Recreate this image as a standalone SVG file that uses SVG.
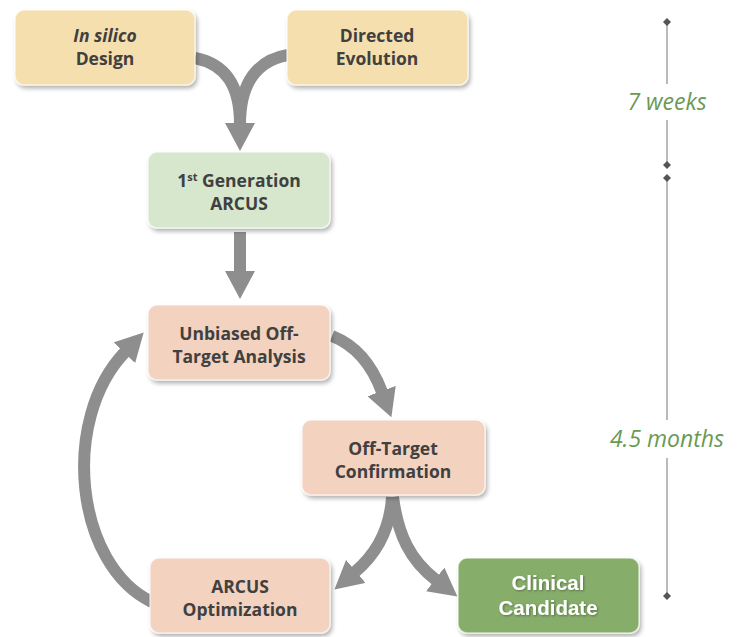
<svg xmlns="http://www.w3.org/2000/svg" width="742" height="637" viewBox="0 0 742 637">
<defs>
<filter id="sh" x="-10%" y="-10%" width="130%" height="140%">
<feDropShadow dx="2" dy="3" stdDeviation="2" flood-color="#000" flood-opacity="0.3"/>
</filter>
<filter id="tsh" x="-10%" y="-20%" width="130%" height="150%">
<feDropShadow dx="1" dy="1" stdDeviation="0.8" flood-color="#000" flood-opacity="0.35"/>
</filter>
<marker id="ah" viewBox="0 0 28 30" refX="1" refY="15" markerWidth="28" markerHeight="30" markerUnits="userSpaceOnUse" orient="auto">
<path d="M0,0 L28,15 L0,30 z" fill="#8e8e8e"/>
</marker>
<marker id="dm" viewBox="0 0 8 8" refX="4" refY="4" markerWidth="8" markerHeight="8" markerUnits="userSpaceOnUse">
<path d="M4,0 L8,4 L4,8 L0,4 z" fill="#555"/>
</marker>
</defs>
<style>
.box{stroke:#ffffff;stroke-opacity:0.6;stroke-width:1.5;filter:url(#sh)}
.tan{fill:#f5dfae}
.lg{fill:#d6e7cd}
.pc{fill:#f3d2bf}
.dg{fill:#86ad6a}
.t{font-family:"Open Sans","DejaVu Sans",sans-serif;font-weight:700;font-size:17.5px;fill:#404040;text-anchor:middle}
.tw{fill:#ffffff;font-size:20.5px;font-family:"Liberation Sans",Arial,sans-serif;filter:url(#tsh)}
.c{fill:none;stroke:#8e8e8e;stroke-width:12}
.tl{stroke:#a3a3a3;stroke-width:1.5;fill:none}
.lab{font-family:"Open Sans","DejaVu Sans",sans-serif;font-style:italic;font-size:23px;fill:#6a9a52;text-anchor:middle}
</style>
<g id="connectors">
<path class="c" d="M195,58 C225,64 240,85 240,124"/>
<path class="c" d="M288,55 C258,60 240,82 240,124" marker-end="url(#ah)"/>
<path class="c" d="M240,232 L240,272" marker-end="url(#ah)"/>
<path class="c" d="M332,336 C355,345 372,365 382,392" marker-end="url(#ah)"/>
<path class="c" d="M152,602 C75,565 60,420 125,352" marker-end="url(#ah)"/>
<path class="c" d="M392,497 C390,530 375,555 355,572" marker-end="url(#ah)"/>
<path class="c" d="M393,497 C398,535 410,560 436,580" marker-end="url(#ah)"/>
</g>
<g id="n1"><rect class="box tan" x="15" y="10" width="180" height="75" rx="9"/>
<text class="t" x="105" y="42"><tspan font-style="italic">In silico</tspan></text>
<text class="t" x="105" y="65">Design</text></g>
<g id="n2"><rect class="box tan" x="287" y="10" width="181" height="75" rx="9"/>
<text class="t" x="377" y="42">Directed</text>
<text class="t" x="377" y="65">Evolution</text></g>
<g id="n3"><rect class="box lg" x="148" y="152" width="182" height="76" rx="9"/>
<text class="t" x="239" y="187">1<tspan font-size="11" dy="-6">st</tspan><tspan dy="6"> Generation</tspan></text>
<text class="t" x="239" y="210">ARCUS</text></g>
<g id="n4"><rect class="box pc" x="148" y="305" width="182" height="75" rx="9"/>
<text class="t" x="239" y="340">Unbiased Off-</text>
<text class="t" x="239" y="363">Target Analysis</text></g>
<g id="n5"><rect class="box pc" x="302" y="420" width="183" height="75" rx="9"/>
<text class="t" x="393" y="455">Off-Target</text>
<text class="t" x="393" y="478">Confirmation</text></g>
<g id="n6"><rect class="box pc" x="150" y="558" width="180" height="75" rx="9"/>
<text class="t" x="240" y="593">ARCUS</text>
<text class="t" x="240" y="616">Optimization</text></g>
<g id="n7"><rect class="box dg" x="458" y="558" width="181" height="75" rx="9"/>
<text class="t tw" x="548" y="590">Clinical</text>
<text class="t tw" x="548" y="615">Candidate</text></g>
<g id="timeline">
<path class="tl" d="M667,22 L667,84" marker-start="url(#dm)"/>
<path class="tl" d="M667,120 L667,165" marker-end="url(#dm)"/>
<path class="tl" d="M667,178 L667,420" marker-start="url(#dm)"/>
<path class="tl" d="M667,458 L667,596" marker-end="url(#dm)"/>
<text class="lab" x="667" y="110">7 weeks</text>
<text class="lab" x="667" y="447">4.5 months</text>
</g>
</svg>
